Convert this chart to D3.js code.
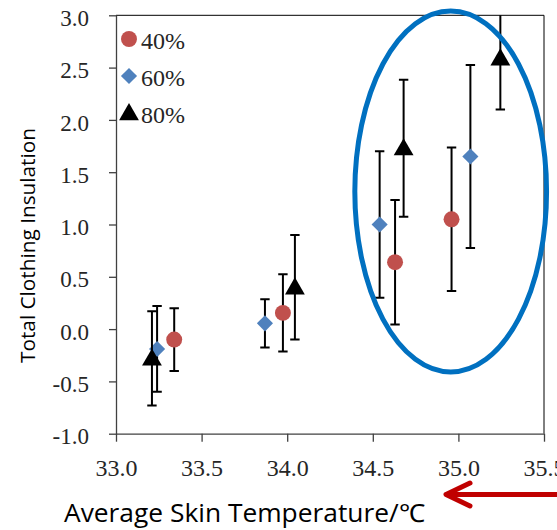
<!DOCTYPE html>
<html>
<head>
<meta charset="utf-8">
<script src="https://cdn.jsdelivr.net/npm/d3@7"></script>
<style>
  html, body { margin: 0; padding: 0; background: #fff; }
  svg { display: block; }
</style>
</head>
<body>
<svg id="chart" width="557" height="530"></svg>
<script>
// Mean skin temperature (°C) vs. total clothing insulation, by relative humidity
const seriesNames = ["40%", "60%", "80%"];

const temp40 = [33.34, 33.975, 34.63, 34.96];
const clo40  = [-0.10, 0.155, 0.64, 1.05];
const sd40   = [0.30, 0.37, 0.595, 0.685];

const temp60 = [33.24, 33.87, 34.54, 35.07];
const clo60  = [-0.19, 0.055, 1.00, 1.65];
const sd60   = [0.41, 0.23, 0.70, 0.875];

const temp80 = [33.21, 34.045, 34.68, 35.245];
const clo80  = [-0.28, 0.40, 1.73, 2.59];
const sd80   = [0.45, 0.50, 0.655, 0.49];

const xTicks = [33.0, 33.5, 34.0, 34.5, 35.0, 35.5];
const yTicks = [-1.0, -0.5, 0.0, 0.5, 1.0, 1.5, 2.0, 2.5, 3.0];

const xTitle = "Average Skin Temperature/\u2103";
const yTitle = "Total Clothing Insulation";

// highlighted cluster (ellipse, in data units)
const highlight = { cx: 34.955, cy: 1.315, rx: 0.56, ry: 1.725 };

const svg = d3.select("#chart");
const plotLeft = 116, plotRight = 544, plotTop = 15.3, plotBottom = 433.7;

const x = d3.scaleLinear().domain([33, 35.5]).range([plotLeft, plotRight]);
const y = d3.scaleLinear().domain([-1, 3]).range([plotBottom, plotTop]);

const SERIF = '"Liberation Serif"';
const SANS = '"Open Sans"';

// one decimal, plain hyphen for negatives
const fmt = v => d3.format(".1f")(v).replace("\u2212", "-");

// frame: top and right border
svg.append("path")
  .attr("d", `M${plotLeft},${plotTop}H${plotRight}V${plotBottom}`)
  .attr("fill", "none").attr("stroke", "#000").attr("stroke-width", 1);

// axes
const yAxis = d3.axisLeft(y).tickValues(yTicks).tickFormat(fmt)
  .tickSizeInner(7).tickSizeOuter(0).tickPadding(20);
const gy = svg.append("g").attr("transform", `translate(${plotLeft},0)`).call(yAxis);
gy.select(".domain").attr("stroke", "#404040").attr("stroke-width", 1.3);
gy.selectAll(".tick line").attr("stroke", "#404040").attr("stroke-width", 1.3);
gy.selectAll(".tick text")
  .style("font-family", SERIF).style("font-size", "23px").attr("fill", "#262626")
  .attr("dy", "0.44em");

const xAxis = d3.axisBottom(x).tickValues(xTicks).tickFormat(fmt)
  .tickSizeInner(8).tickSizeOuter(0).tickPadding(0);
const gx = svg.append("g").attr("transform", `translate(0,${plotBottom})`).call(xAxis);
gx.select(".domain").attr("stroke", "#404040").attr("stroke-width", 1.3);
gx.selectAll(".tick line").attr("stroke", "#404040").attr("stroke-width", 1.3);
gx.selectAll(".tick text")
  .style("font-family", SERIF).style("font-size", "24px").attr("fill", "#262626")
  .attr("y", 42).attr("dy", 0);

// axis titles
svg.append("text")
  .attr("x", 64).attr("y", 522)
  .style("font-family", SANS).style("font-size", "25px").attr("fill", "#000")
  .attr("textLength", 361).attr("lengthAdjust", "spacingAndGlyphs")
  .text(xTitle);

svg.append("text")
  .attr("transform", "translate(35,363) rotate(-90)")
  .style("font-family", SANS).style("font-size", "20px").attr("fill", "#000")
  .attr("textLength", 235).attr("lengthAdjust", "spacingAndGlyphs")
  .text(yTitle);

// data
const series = [
  { name: seriesNames[0], shape: "circle",   color: "#C0504D",
    pts: temp40.map((t, i) => ({ t, v: clo40[i], sd: sd40[i] })) },
  { name: seriesNames[1], shape: "diamond",  color: "#4F81BD",
    pts: temp60.map((t, i) => ({ t, v: clo60[i], sd: sd60[i] })) },
  { name: seriesNames[2], shape: "triangle", color: "#000000",
    pts: temp80.map((t, i) => ({ t, v: clo80[i], sd: sd80[i] })) }
];

const symbols = {
  circle:   d3.symbol().type(d3.symbolCircle).size(200),
  diamond:  d3.symbol().type(d3.symbolSquare).size(130),
  triangle: d3.symbol().type(d3.symbolTriangle).size(170)
};
function symbolTransform(shape, px, py) {
  if (shape === "diamond") return `translate(${px},${py}) rotate(45)`;
  if (shape === "triangle") return `translate(${px},${py + 1.5})`;
  return `translate(${px},${py})`;
}

svg.append("clipPath").attr("id", "plotClip")
  .append("rect").attr("x", plotLeft).attr("y", plotTop)
  .attr("width", plotRight - plotLeft).attr("height", plotBottom - plotTop);

const plot = svg.append("g").attr("clip-path", "url(#plotClip)");
const cap = 4.7;

series.forEach(s => {
  const g = plot.append("g");
  // error bars
  const eb = g.selectAll("g.err").data(s.pts).join("g").attr("class", "err");
  eb.append("line")
    .attr("x1", d => x(d.t)).attr("x2", d => x(d.t))
    .attr("y1", d => y(d.v + d.sd)).attr("y2", d => y(d.v - d.sd))
    .attr("stroke", "#000").attr("stroke-width", 2);
  eb.append("line")
    .attr("x1", d => x(d.t) - cap).attr("x2", d => x(d.t) + cap)
    .attr("y1", d => y(d.v + d.sd)).attr("y2", d => y(d.v + d.sd))
    .attr("stroke", "#000").attr("stroke-width", 2);
  eb.append("line")
    .attr("x1", d => x(d.t) - cap).attr("x2", d => x(d.t) + cap)
    .attr("y1", d => y(d.v - d.sd)).attr("y2", d => y(d.v - d.sd))
    .attr("stroke", "#000").attr("stroke-width", 2);
  // markers
  g.selectAll("path.mk").data(s.pts).join("path").attr("class", "mk")
    .attr("d", symbols[s.shape]())
    .attr("transform", d => symbolTransform(s.shape, x(d.t), y(d.v)))
    .attr("fill", s.color);
});

// legend
const legend = svg.append("g");
series.forEach((s, i) => {
  const cy = 39 + i * 37;
  legend.append("path")
    .attr("d", symbols[s.shape]())
    .attr("transform", symbolTransform(s.shape, 129, cy))
    .attr("fill", s.color);
  legend.append("text")
    .attr("x", 141).attr("y", cy + 10)
    .style("font-family", SERIF).style("font-size", "24px").attr("fill", "#262626")
    .text(s.name);
});

// highlighted cluster
svg.append("ellipse")
  .attr("cx", x(highlight.cx)).attr("cy", y(highlight.cy))
  .attr("rx", x(highlight.cx + highlight.rx) - x(highlight.cx))
  .attr("ry", y(highlight.cy - highlight.ry) - y(highlight.cy))
  .attr("fill", "none").attr("stroke", "#0070C0").attr("stroke-width", 5);

// arrow pointing toward lower skin temperature
const ay = 494.5, tipX = 446, armX = 470;
const arrow = svg.append("g").attr("stroke", "#C00000").attr("stroke-width", 5)
  .attr("stroke-linecap", "round").attr("stroke-linejoin", "round").attr("fill", "none");
arrow.append("line").attr("x1", tipX + 2).attr("y1", ay).attr("x2", 562).attr("y2", ay);
arrow.append("path").attr("d", `M${armX},${ay - 11.5}L${tipX},${ay}L${armX},${ay + 11.5}`);
</script>
</body>
</html>
